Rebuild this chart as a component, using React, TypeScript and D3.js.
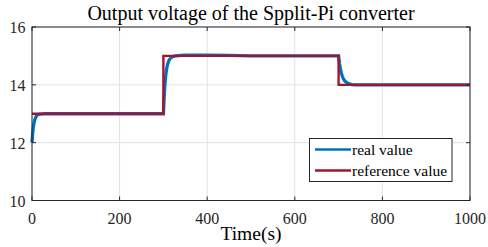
import React from "react";
import * as d3 from "d3";

const xTicks = [0, 200, 400, 600, 800, 1000];
const yTicks = [10, 12, 14, 16];

const realTime = [0, 1, 2, 3, 4, 5, 6, 8, 10, 12, 15, 20, 30, 50, 100, 200, 299,
  300, 301, 302, 303, 304, 305, 306, 308, 310, 312, 315, 320, 325, 330, 340, 350, 400, 450, 500, 600, 699,
  700, 701, 702, 703, 704, 705, 706, 708, 710, 712, 715, 720, 725, 730, 740, 750, 800, 900, 1000];
const realValue = [12, 12.22, 12.39, 12.53, 12.63, 12.71, 12.78, 12.86, 12.92, 12.95, 12.98, 12.99, 13.0, 13.0, 13.0, 13.0, 13.0,
  13.0, 13.36, 13.66, 13.9, 14.1, 14.26, 14.4, 14.6, 14.73, 14.82, 14.9, 14.96, 14.99, 15.0, 15.02, 15.03, 15.03, 15.02, 15.0, 15.0, 15.0,
  15.0, 14.87, 14.75, 14.65, 14.56, 14.49, 14.42, 14.32, 14.24, 14.18, 14.12, 14.06, 14.03, 14.01, 14.0, 14.0, 14.0, 14.0, 14.0];

const refTime = [0, 300, 300, 700, 700, 1000];
const refValue = [13, 13, 15, 15, 14, 14];

const legendLabels = ["real value", "reference value"];
const seriesColors = ["#0072BD", "#A2142F"];

export default function App() {
  const W = 488, H = 247;
  const m = { l: 32, r: 470, t: 27, b: 200.5 };
  const x = d3.scaleLinear().domain([0, 1000]).range([m.l, m.r]);
  const y = d3.scaleLinear().domain([10, 16]).range([m.b, m.t]);
  const line = d3.line<[number, number]>().x(d => x(d[0])).y(d => y(d[1]));
  const real = line(realTime.map((t, i) => [t, realValue[i]]) as [number, number][]) || "";
  const ref = line(refTime.map((t, i) => [t, refValue[i]]) as [number, number][]) || "";
  const tf: React.CSSProperties = { fontFamily: '"Liberation Serif", "DejaVu Serif", serif' };
  const axisColor = "#262626";
  const tl = 4;
  return (
    <svg width={W} height={H} style={{ position: "absolute", left: 0, top: 0, background: "#fff" }}>
      <rect x={0} y={0} width={W} height={H} fill="#fff" />
      {xTicks.map(t => (
        <line key={"gx" + t} x1={x(t)} x2={x(t)} y1={m.t} y2={m.b} stroke="#e3e3e3" strokeWidth={1} />
      ))}
      {yTicks.map(t => (
        <line key={"gy" + t} x1={m.l} x2={m.r} y1={y(t)} y2={y(t)} stroke="#e3e3e3" strokeWidth={1} />
      ))}
      <path d={real} fill="none" stroke={seriesColors[0]} strokeWidth={3.3} />
      <path d={ref} fill="none" stroke={seriesColors[1]} strokeWidth={2.4} />
      <rect x={m.l} y={m.t} width={m.r - m.l} height={m.b - m.t} fill="none" stroke={axisColor} strokeWidth={1} />
      {xTicks.map(t => (
        <g key={"tx" + t}>
          <line x1={x(t)} x2={x(t)} y1={m.b} y2={m.b - tl} stroke={axisColor} />
          <line x1={x(t)} x2={x(t)} y1={m.t} y2={m.t + tl} stroke={axisColor} />
          <text x={x(t)} y={224} textAnchor="middle" fontSize={16} fill={axisColor} style={tf}>{t}</text>
        </g>
      ))}
      {yTicks.map(t => (
        <g key={"ty" + t}>
          <line x1={m.l} x2={m.l + tl} y1={y(t)} y2={y(t)} stroke={axisColor} />
          <line x1={m.r} x2={m.r - tl} y1={y(t)} y2={y(t)} stroke={axisColor} />
          <text x={25.5} y={y(t) + 6} textAnchor="end" fontSize={16} fill={axisColor} style={tf}>{t}</text>
        </g>
      ))}
      <text x={251} y={240} textAnchor="middle" fontSize={19.5} fill="#000" style={tf}>Time(s)</text>
      <text x={251} y={20} textAnchor="middle" fontSize={20} fill="#000" style={tf}>Output voltage of the Spplit-Pi converter</text>
      <g>
        <rect x={309.5} y={138.5} width={142.5} height={43} fill="#fff" stroke={axisColor} strokeWidth={1} />
        {legendLabels.map((lab, i) => (
          <g key={lab}>
            <line x1={315} x2={351} y1={149.5 + i * 21} y2={149.5 + i * 21} stroke={seriesColors[i]} strokeWidth={2.5} />
            <text x={352} y={155 + i * 21} fontSize={15.5} fill="#000" style={tf}>{lab}</text>
          </g>
        ))}
      </g>
    </svg>
  );
}
